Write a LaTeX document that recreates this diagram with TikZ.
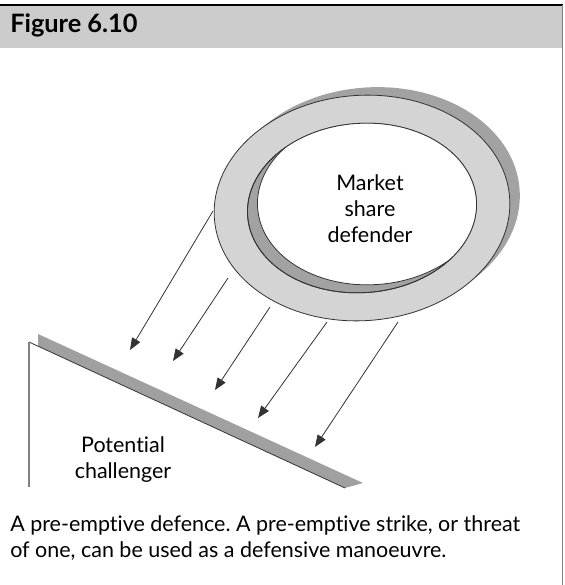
\documentclass[tikz,border=0pt]{standalone}
\usepackage{fontspec}
\setmainfont{Lato}[Ligatures={NoCommon}]
\frenchspacing
\usetikzlibrary{arrows.meta}
\definecolor{headgray}{HTML}{CCCCCC}
\definecolor{ringlight}{HTML}{D4D4D4}
\definecolor{ringdark}{HTML}{A2A2A2}
\definecolor{barcol}{HTML}{A0A0A0}
\definecolor{inkline}{HTML}{333333}
\tikzset{
  body/.style={font=\fontsize{16.1}{19.5}\selectfont, inner sep=0pt},
  outline/.style={draw=inkline, line width=0.6pt},
  strike/.style={draw=inkline, line width=0.6pt,
    -{Triangle[length=9pt, width=7pt]}},
  outerrim/.style={rotate=4, x radius=111pt, y radius=84.5pt},
  innerrim/.style={rotate=4, x radius=86pt, y radius=63.5pt},
}
\begin{document}
\begin{tikzpicture}[x=0.75pt, y=-0.75pt]
  \useasboundingbox (0,0) rectangle (564,585);
  % header band and frame
  \fill[headgray] (0,5) rectangle (562,48);
  \draw[black, line width=1.2pt] (0,5) -- (563,5);
  \draw[gray, line width=0.8pt] (562.5,5) -- (562.5,585);
  \node[anchor=base west, inner sep=0pt, font=\fontsize{19}{22}\selectfont\bfseries]
    (title) at (10,33) {Figure 6.10};

  % the defender's ring: shadow, outer rim, inner wall, open centre
  \coordinate (ringC) at (362,208);
  \coordinate (ringS) at (372,200);
  \fill[ringdark] (ringS) ellipse [outerrim];
  \path[fill=ringlight, outline] (ringC) ellipse [outerrim];
  \path[fill=ringdark, outline] (ringC) ellipse [innerrim];
  \begin{scope}
    \clip (ringC) ellipse [innerrim];
    \path[fill=white, outline] (ringS) ellipse [innerrim];
  \end{scope}
  \path[outline] (ringC) ellipse [innerrim];
  \node[body, align=center] (defender) at (370,209) {Market\\share\\defender};

  % the challenger's wall
  \coordinate (wallTL) at (38,334);
  \coordinate (wallTR) at (363,483);
  \coordinate (wallBR) at (345,488);
  \coordinate (wallBL) at (38,346);
  \fill[barcol] (wallTL) -- (wallTR) -- (wallBR) -- (wallBL) -- cycle;
  \coordinate (roofL) at (29,342);
  \coordinate (roofR) at (345,488);
  \coordinate (sideB) at (29,487);
  \draw[inkline, line width=0.6pt] (roofL) -- (roofR);
  \draw[gray, line width=1.1pt] (roofL) -- (sideB);
  \node[body, align=center] (challenger) at (123,460) {Potential\\challenger};

  % pre-emptive strikes
  \coordinate (s1) at (213,211); \coordinate (e1) at (130,350);
  \coordinate (s2) at (228,278); \coordinate (e2) at (173,361);
  \coordinate (s3) at (270,307); \coordinate (e3) at (215,390);
  \coordinate (s4) at (327,322); \coordinate (e4) at (258,418);
  \coordinate (s5) at (398,322); \coordinate (e5) at (315,447);
  \foreach \i in {1,...,5} { \draw[strike] (s\i) -- (e\i); }

  % caption
  \node[body, anchor=base west, align=left]
    (caption) at (10,557)
    {A pre-emptive defence. A pre-emptive strike, or threat\\of one, can be used as a defensive manoeuvre.};
\end{tikzpicture}
\end{document}
